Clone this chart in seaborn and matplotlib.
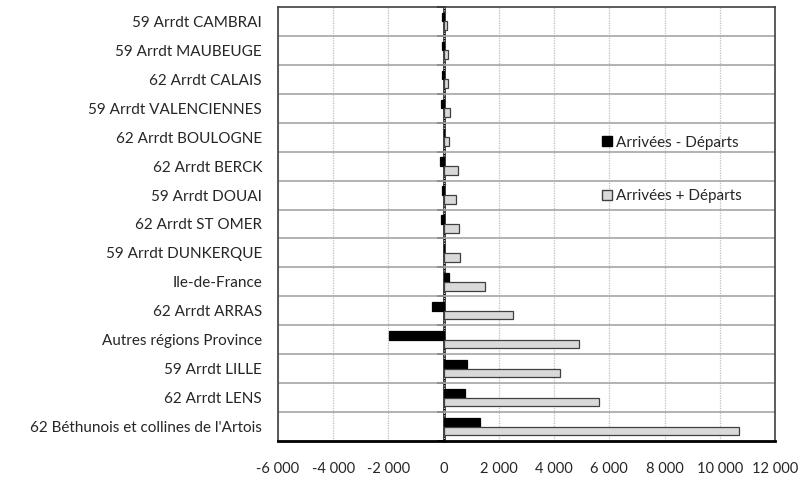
import numpy as np
import pandas as pd
import matplotlib
matplotlib.use("Agg")
import matplotlib.pyplot as plt
from matplotlib.patches import Patch
import seaborn as sns

# categories, top to bottom
zones = [
    "59 Arrdt CAMBRAI", "59 Arrdt MAUBEUGE", "62 Arrdt CALAIS",
    "59 Arrdt VALENCIENNES", "62 Arrdt BOULOGNE", "62 Arrdt BERCK",
    "59 Arrdt DOUAI", "62 Arrdt ST OMER", "59 Arrdt DUNKERQUE",
    "Ile-de-France", "62 Arrdt ARRAS", "Autres régions Province",
    "59 Arrdt LILLE", "62 Arrdt LENS", "62 Béthunois et collines de l'Artois",
]
solde = [-50, -50, -50, -100, 10, -145, -50, -100, 10,
         180, -410, -1990, 860, 770, 1330]
volume = [120, 155, 155, 240, 205, 505, 460, 545, 605,
          1510, 2525, 4915, 4215, 5630, 10700]

series_labels = ["Arrivées - Départs", "Arrivées + Départs"]
xticks = list(range(-6000, 12001, 2000))

df = pd.DataFrame({
    "zone": zones * 2,
    "valeur": solde + volume,
    "serie": [series_labels[0]] * len(zones) + [series_labels[1]] * len(zones),
})

sns.set_style("white")
plt.rcParams["font.family"] = ["Lato", "DejaVu Sans"]

fig = plt.figure(figsize=(8.06, 4.79), dpi=100)
ax = fig.add_axes([278 / 806, 1 - 441 / 479, 497 / 806, 434 / 479])

palette = {series_labels[0]: "black", series_labels[1]: "#d9d9d9"}
sns.barplot(data=df, y="zone", x="valeur", hue="serie", order=zones,
            hue_order=series_labels, palette=palette, orient="h",
            width=0.6, ax=ax, legend=False, saturation=1)

for bar in ax.patches:
    fc = bar.get_facecolor()
    if fc[0] > 0.5:
        bar.set_edgecolor("#404040")
    else:
        bar.set_edgecolor("black")
    bar.set_linewidth(0.9)

ax.set_xlim(-6000, 12000)
ax.set_ylim(len(zones) - 0.5, -0.5)
ax.set_xticks(xticks)
ax.set_xticklabels([f"{v:,}".replace(",", " ") for v in xticks], fontsize=10.5)
ax.tick_params(axis="x", direction="out", length=5, width=1.2, color="black", pad=10)
ax.tick_params(axis="y", length=0, pad=11.5, labelsize=11)
ax.set_xlabel("")
ax.set_ylabel("")

# boundaries between categories
bounds = np.arange(len(zones) + 1) - 0.5
ax.set_yticks(bounds[1:-1], minor=True)
ax.tick_params(axis="y", which="minor", length=0)
ax.grid(axis="y", which="minor", color="#a6a6a6", linewidth=1.2, linestyle="-")
ax.grid(axis="x", which="major", color="#bfbfbf", linewidth=0.9, linestyle=(0, (1, 1)))
ax.grid(axis="y", which="major", visible=False)
ax.set_axisbelow(True)

for side in ["left", "top", "right"]:
    ax.spines[side].set_color("#404040")
    ax.spines[side].set_linewidth(1.2)
ax.spines["bottom"].set_color("black")
ax.spines["bottom"].set_linewidth(2)

# zero axis with tick marks at category boundaries
zero = ax.secondary_yaxis(6000 / 18000)
zero.set_yticks(bounds)
zero.set_yticklabels([])
zero.tick_params(direction="out", length=5, width=1.2, color="black")
zero.spines["left"].set_color("black")
zero.spines["left"].set_linewidth(1.8)

handles = [Patch(facecolor="black", edgecolor="black", label=series_labels[0]),
           Patch(facecolor="#d9d9d9", edgecolor="#404040", label=series_labels[1])]
fig.legend(handles=handles, loc="upper left", bbox_to_anchor=(588 / 806, 1 - 122 / 479),
           frameon=False, fontsize=11, handlelength=0.65, handleheight=0.65,
           handletextpad=0.3, labelspacing=2.6)

fig.savefig("out.png", dpi=100)
